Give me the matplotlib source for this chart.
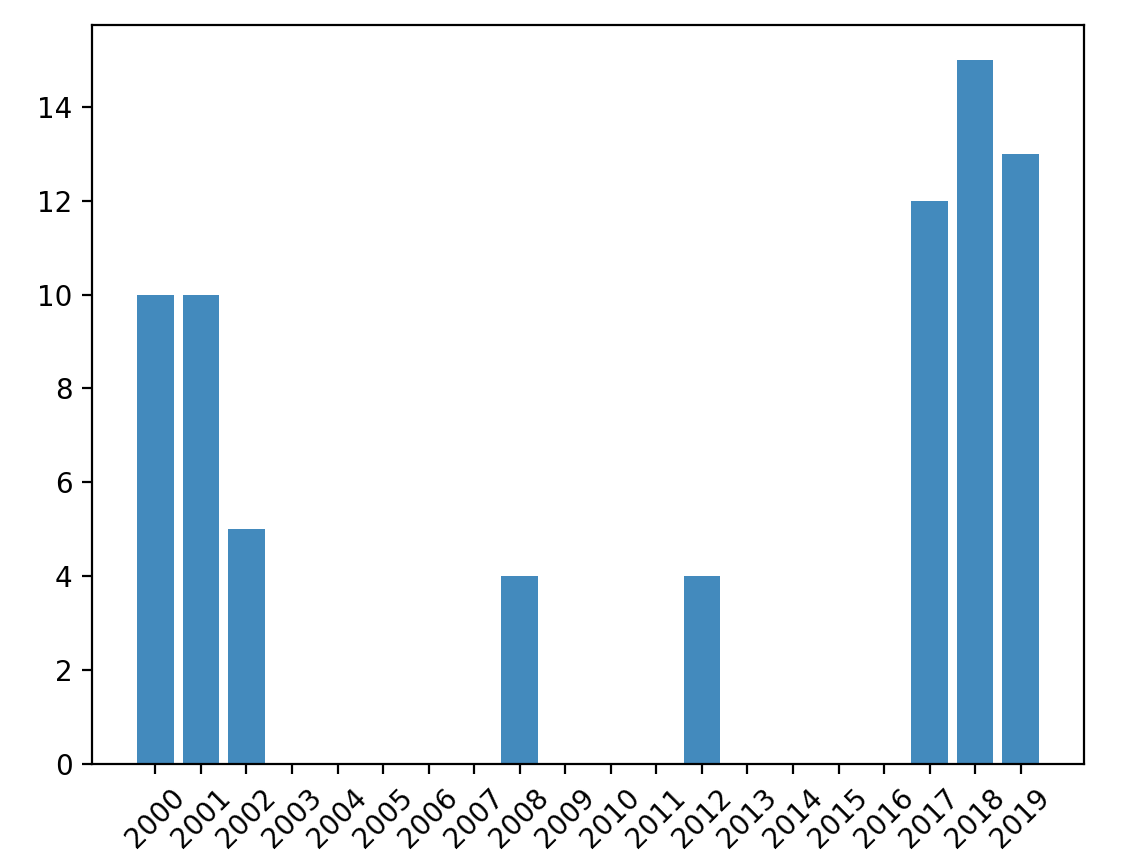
import matplotlib
matplotlib.use("Agg")
import matplotlib.pyplot as plt

years = [str(y) for y in range(2000, 2020)]
counts = [10, 10, 5, 0, 0, 0, 0, 0, 4, 0, 0, 0, 4, 0, 0, 0, 0, 12, 15, 13]

fig = plt.figure(figsize=(5.66, 4.28), dpi=200)
ax = fig.add_axes([0.0813, 0.1078, 0.8763, 0.8630])
ax.bar(years, counts, color="#438abd")
plt.xticks(rotation=45)
fig.savefig("out.png", dpi=200)
